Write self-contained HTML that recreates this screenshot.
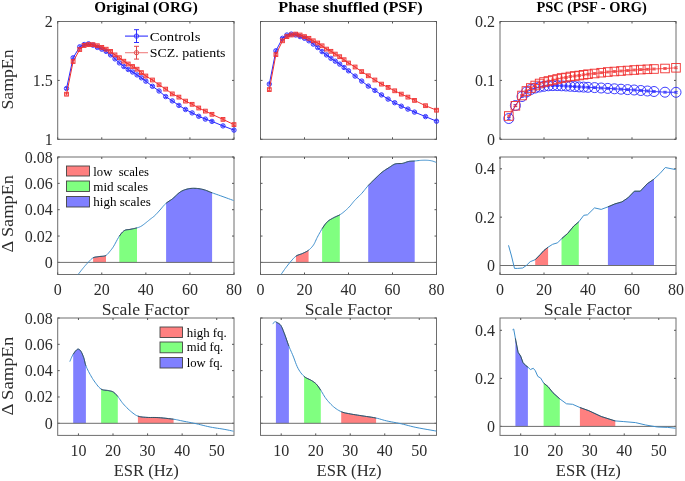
<!DOCTYPE html>
<html><head><meta charset="utf-8"><style>
html,body{margin:0;padding:0;background:#fff;}
svg{display:block;will-change:transform;}
text{font-family:"Liberation Serif",serif;}
.t{font-size:16px;fill:#2c2c2c;}
.ti{font-size:15.3px;font-weight:bold;fill:#000;}
.al{font-size:17.4px;fill:#2c2c2c;}
.lg{font-size:13px;fill:#000;}
.lg2{font-size:12.5px;fill:#000;}
</style></head><body>
<svg width="685" height="481" viewBox="0 0 685 481">
<rect width="685" height="481" fill="#fff"/>
<rect x="57.7" y="21.5" width="176.3" height="117.80000000000001" fill="none" stroke="#6e6e6e" stroke-width="1"/>
<rect x="260.5" y="21.5" width="176.0" height="117.80000000000001" fill="none" stroke="#6e6e6e" stroke-width="1"/>
<rect x="500.0" y="21.5" width="176.0" height="117.80000000000001" fill="none" stroke="#6e6e6e" stroke-width="1"/>
<path d="M57.7 139.3v-2.0M57.7 21.5v2.0" stroke="#555"/>
<path d="M101.78 139.3v-2.0M101.78 21.5v2.0" stroke="#555"/>
<path d="M145.85 139.3v-2.0M145.85 21.5v2.0" stroke="#555"/>
<path d="M189.93 139.3v-2.0M189.93 21.5v2.0" stroke="#555"/>
<path d="M234 139.3v-2.0M234 21.5v2.0" stroke="#555"/>
<path d="M57.7 139.3h2.0M234.0 139.3h-2.0" stroke="#555"/>
<text x="52.8" y="144.8" text-anchor="end" class="t">1</text>
<path d="M57.7 80.4h2.0M234.0 80.4h-2.0" stroke="#555"/>
<text x="52.8" y="85.9" text-anchor="end" class="t">1.5</text>
<path d="M57.7 21.5h2.0M234.0 21.5h-2.0" stroke="#555"/>
<text x="52.8" y="27" text-anchor="end" class="t">2</text>
<path d="M260.5 139.3v-2.0M260.5 21.5v2.0" stroke="#555"/>
<path d="M304.5 139.3v-2.0M304.5 21.5v2.0" stroke="#555"/>
<path d="M348.5 139.3v-2.0M348.5 21.5v2.0" stroke="#555"/>
<path d="M392.5 139.3v-2.0M392.5 21.5v2.0" stroke="#555"/>
<path d="M436.5 139.3v-2.0M436.5 21.5v2.0" stroke="#555"/>
<path d="M260.5 139.3h2.0M436.5 139.3h-2.0" stroke="#555"/>
<path d="M260.5 80.4h2.0M436.5 80.4h-2.0" stroke="#555"/>
<path d="M260.5 21.5h2.0M436.5 21.5h-2.0" stroke="#555"/>
<path d="M500 139.3v-2.0M500 21.5v2.0" stroke="#555"/>
<path d="M544 139.3v-2.0M544 21.5v2.0" stroke="#555"/>
<path d="M588 139.3v-2.0M588 21.5v2.0" stroke="#555"/>
<path d="M632 139.3v-2.0M632 21.5v2.0" stroke="#555"/>
<path d="M676 139.3v-2.0M676 21.5v2.0" stroke="#555"/>
<path d="M500.0 139.3h2.0M676.0 139.3h-2.0" stroke="#555"/>
<text x="495.1" y="144.8" text-anchor="end" class="t">0</text>
<path d="M500.0 80.4h2.0M676.0 80.4h-2.0" stroke="#555"/>
<text x="495.1" y="85.9" text-anchor="end" class="t">0.1</text>
<path d="M500.0 21.5h2.0M676.0 21.5h-2.0" stroke="#555"/>
<text x="495.1" y="27" text-anchor="end" class="t">0.2</text>
<path d="M66.52 88.5 L73.13 57.8 L79.74 46.8 L84.15 44.5 L88.55 43.8 L92.96 45.2 L97.37 47.4 L101.78 49.2 L106.18 51.4 L110.59 54.9 L115 58.9 L119.41 62.9 L123.81 66.5 L128.22 69.5 L132.63 72 L137.04 74.9 L141.44 77.8 L145.85 81.2 L152.46 86.3 L159.07 91 L165.68 96.6 L172.3 100.9 L178.91 105.4 L185.52 109.5 L192.13 112.9 L198.74 116.3 L205.35 119.1 L211.96 121.4 L222.98 125.9 L234 130.1" fill="none" stroke="#2828ff" stroke-width="1.0"/>
<circle cx="66.52" cy="88.5" r="2.2" fill="none" stroke="#2828ff" stroke-width="0.9"/>
<circle cx="73.13" cy="57.8" r="2.2" fill="none" stroke="#2828ff" stroke-width="0.9"/>
<circle cx="79.74" cy="46.8" r="2.2" fill="none" stroke="#2828ff" stroke-width="0.9"/>
<circle cx="84.15" cy="44.5" r="2.2" fill="none" stroke="#2828ff" stroke-width="0.9"/>
<circle cx="88.55" cy="43.8" r="2.2" fill="none" stroke="#2828ff" stroke-width="0.9"/>
<circle cx="92.96" cy="45.2" r="2.2" fill="none" stroke="#2828ff" stroke-width="0.9"/>
<circle cx="97.37" cy="47.4" r="2.2" fill="none" stroke="#2828ff" stroke-width="0.9"/>
<circle cx="101.78" cy="49.2" r="2.2" fill="none" stroke="#2828ff" stroke-width="0.9"/>
<circle cx="106.18" cy="51.4" r="2.2" fill="none" stroke="#2828ff" stroke-width="0.9"/>
<circle cx="110.59" cy="54.9" r="2.2" fill="none" stroke="#2828ff" stroke-width="0.9"/>
<circle cx="115" cy="58.9" r="2.2" fill="none" stroke="#2828ff" stroke-width="0.9"/>
<circle cx="119.41" cy="62.9" r="2.2" fill="none" stroke="#2828ff" stroke-width="0.9"/>
<circle cx="123.81" cy="66.5" r="2.2" fill="none" stroke="#2828ff" stroke-width="0.9"/>
<circle cx="128.22" cy="69.5" r="2.2" fill="none" stroke="#2828ff" stroke-width="0.9"/>
<circle cx="132.63" cy="72" r="2.2" fill="none" stroke="#2828ff" stroke-width="0.9"/>
<circle cx="137.04" cy="74.9" r="2.2" fill="none" stroke="#2828ff" stroke-width="0.9"/>
<circle cx="141.44" cy="77.8" r="2.2" fill="none" stroke="#2828ff" stroke-width="0.9"/>
<circle cx="145.85" cy="81.2" r="2.2" fill="none" stroke="#2828ff" stroke-width="0.9"/>
<circle cx="152.46" cy="86.3" r="2.2" fill="none" stroke="#2828ff" stroke-width="0.9"/>
<circle cx="159.07" cy="91" r="2.2" fill="none" stroke="#2828ff" stroke-width="0.9"/>
<circle cx="165.68" cy="96.6" r="2.2" fill="none" stroke="#2828ff" stroke-width="0.9"/>
<circle cx="172.3" cy="100.9" r="2.2" fill="none" stroke="#2828ff" stroke-width="0.9"/>
<circle cx="178.91" cy="105.4" r="2.2" fill="none" stroke="#2828ff" stroke-width="0.9"/>
<circle cx="185.52" cy="109.5" r="2.2" fill="none" stroke="#2828ff" stroke-width="0.9"/>
<circle cx="192.13" cy="112.9" r="2.2" fill="none" stroke="#2828ff" stroke-width="0.9"/>
<circle cx="198.74" cy="116.3" r="2.2" fill="none" stroke="#2828ff" stroke-width="0.9"/>
<circle cx="205.35" cy="119.1" r="2.2" fill="none" stroke="#2828ff" stroke-width="0.9"/>
<circle cx="211.96" cy="121.4" r="2.2" fill="none" stroke="#2828ff" stroke-width="0.9"/>
<circle cx="222.98" cy="125.9" r="2.2" fill="none" stroke="#2828ff" stroke-width="0.9"/>
<circle cx="234" cy="130.1" r="2.2" fill="none" stroke="#2828ff" stroke-width="0.9"/>
<path d="M65.02 87.6h3M65.02 89.4h3M66.52 87.6V89.4M71.63 56.9h3M71.63 58.7h3M73.13 56.9V58.7M78.24 45.9h3M78.24 47.7h3M79.74 45.9V47.7M82.65 43.6h3M82.65 45.4h3M84.15 43.6V45.4M87.05 42.9h3M87.05 44.7h3M88.55 42.9V44.7M91.46 44.3h3M91.46 46.1h3M92.96 44.3V46.1M95.87 46.5h3M95.87 48.3h3M97.37 46.5V48.3M100.28 48.3h3M100.28 50.1h3M101.78 48.3V50.1M104.68 50.5h3M104.68 52.3h3M106.18 50.5V52.3M109.09 54h3M109.09 55.8h3M110.59 54V55.8M113.5 58h3M113.5 59.8h3M115 58V59.8M117.91 62h3M117.91 63.8h3M119.41 62V63.8M122.31 65.6h3M122.31 67.4h3M123.81 65.6V67.4M126.72 68.6h3M126.72 70.4h3M128.22 68.6V70.4M131.13 71.1h3M131.13 72.9h3M132.63 71.1V72.9M135.54 74h3M135.54 75.8h3M137.04 74V75.8M139.94 76.9h3M139.94 78.7h3M141.44 76.9V78.7M144.35 80.3h3M144.35 82.1h3M145.85 80.3V82.1M150.96 85.4h3M150.96 87.2h3M152.46 85.4V87.2M157.57 90.1h3M157.57 91.9h3M159.07 90.1V91.9M164.18 95.7h3M164.18 97.5h3M165.68 95.7V97.5M170.8 100h3M170.8 101.8h3M172.3 100V101.8M177.41 104.5h3M177.41 106.3h3M178.91 104.5V106.3M184.02 108.6h3M184.02 110.4h3M185.52 108.6V110.4M190.63 112h3M190.63 113.8h3M192.13 112V113.8M197.24 115.4h3M197.24 117.2h3M198.74 115.4V117.2M203.85 118.2h3M203.85 120h3M205.35 118.2V120M210.46 120.5h3M210.46 122.3h3M211.96 120.5V122.3M221.48 125h3M221.48 126.8h3M222.98 125V126.8M232.5 129.2h3M232.5 131h3M234 129.2V131" stroke="#2828ff" stroke-width="0.8" fill="none"/>
<path d="M66.52 94.2 L73.13 61.5 L79.74 49.5 L84.15 45.5 L88.55 44.6 L92.96 44.6 L97.37 45.7 L101.78 47.4 L106.18 49.2 L110.59 51.4 L115 54.9 L119.41 57.7 L123.81 61.2 L128.22 64 L132.63 66.5 L137.04 69.2 L141.44 72.6 L145.85 76 L152.46 80 L159.07 84.8 L165.68 89.1 L172.3 93.9 L178.91 97.1 L185.52 101.1 L192.13 104.3 L198.74 108 L205.35 111.1 L211.96 114.3 L222.98 119.4 L234 124.6" fill="none" stroke="#f03030" stroke-width="1.0"/>
<rect x="64.61" y="92.3" width="3.8" height="3.8" fill="none" stroke="#f03030" stroke-width="0.9"/>
<rect x="71.23" y="59.6" width="3.8" height="3.8" fill="none" stroke="#f03030" stroke-width="0.9"/>
<rect x="77.84" y="47.6" width="3.8" height="3.8" fill="none" stroke="#f03030" stroke-width="0.9"/>
<rect x="82.25" y="43.6" width="3.8" height="3.8" fill="none" stroke="#f03030" stroke-width="0.9"/>
<rect x="86.65" y="42.7" width="3.8" height="3.8" fill="none" stroke="#f03030" stroke-width="0.9"/>
<rect x="91.06" y="42.7" width="3.8" height="3.8" fill="none" stroke="#f03030" stroke-width="0.9"/>
<rect x="95.47" y="43.8" width="3.8" height="3.8" fill="none" stroke="#f03030" stroke-width="0.9"/>
<rect x="99.88" y="45.5" width="3.8" height="3.8" fill="none" stroke="#f03030" stroke-width="0.9"/>
<rect x="104.28" y="47.3" width="3.8" height="3.8" fill="none" stroke="#f03030" stroke-width="0.9"/>
<rect x="108.69" y="49.5" width="3.8" height="3.8" fill="none" stroke="#f03030" stroke-width="0.9"/>
<rect x="113.1" y="53" width="3.8" height="3.8" fill="none" stroke="#f03030" stroke-width="0.9"/>
<rect x="117.5" y="55.8" width="3.8" height="3.8" fill="none" stroke="#f03030" stroke-width="0.9"/>
<rect x="121.91" y="59.3" width="3.8" height="3.8" fill="none" stroke="#f03030" stroke-width="0.9"/>
<rect x="126.32" y="62.1" width="3.8" height="3.8" fill="none" stroke="#f03030" stroke-width="0.9"/>
<rect x="130.73" y="64.6" width="3.8" height="3.8" fill="none" stroke="#f03030" stroke-width="0.9"/>
<rect x="135.14" y="67.3" width="3.8" height="3.8" fill="none" stroke="#f03030" stroke-width="0.9"/>
<rect x="139.54" y="70.7" width="3.8" height="3.8" fill="none" stroke="#f03030" stroke-width="0.9"/>
<rect x="143.95" y="74.1" width="3.8" height="3.8" fill="none" stroke="#f03030" stroke-width="0.9"/>
<rect x="150.56" y="78.1" width="3.8" height="3.8" fill="none" stroke="#f03030" stroke-width="0.9"/>
<rect x="157.17" y="82.9" width="3.8" height="3.8" fill="none" stroke="#f03030" stroke-width="0.9"/>
<rect x="163.78" y="87.2" width="3.8" height="3.8" fill="none" stroke="#f03030" stroke-width="0.9"/>
<rect x="170.4" y="92" width="3.8" height="3.8" fill="none" stroke="#f03030" stroke-width="0.9"/>
<rect x="177.01" y="95.2" width="3.8" height="3.8" fill="none" stroke="#f03030" stroke-width="0.9"/>
<rect x="183.62" y="99.2" width="3.8" height="3.8" fill="none" stroke="#f03030" stroke-width="0.9"/>
<rect x="190.23" y="102.4" width="3.8" height="3.8" fill="none" stroke="#f03030" stroke-width="0.9"/>
<rect x="196.84" y="106.1" width="3.8" height="3.8" fill="none" stroke="#f03030" stroke-width="0.9"/>
<rect x="203.45" y="109.2" width="3.8" height="3.8" fill="none" stroke="#f03030" stroke-width="0.9"/>
<rect x="210.06" y="112.4" width="3.8" height="3.8" fill="none" stroke="#f03030" stroke-width="0.9"/>
<rect x="221.08" y="117.5" width="3.8" height="3.8" fill="none" stroke="#f03030" stroke-width="0.9"/>
<rect x="232.1" y="122.7" width="3.8" height="3.8" fill="none" stroke="#f03030" stroke-width="0.9"/>
<path d="M65.02 93.3h3M65.02 95.1h3M66.52 93.3V95.1M71.63 60.6h3M71.63 62.4h3M73.13 60.6V62.4M78.24 48.6h3M78.24 50.4h3M79.74 48.6V50.4M82.65 44.6h3M82.65 46.4h3M84.15 44.6V46.4M87.05 43.7h3M87.05 45.5h3M88.55 43.7V45.5M91.46 43.7h3M91.46 45.5h3M92.96 43.7V45.5M95.87 44.8h3M95.87 46.6h3M97.37 44.8V46.6M100.28 46.5h3M100.28 48.3h3M101.78 46.5V48.3M104.68 48.3h3M104.68 50.1h3M106.18 48.3V50.1M109.09 50.5h3M109.09 52.3h3M110.59 50.5V52.3M113.5 54h3M113.5 55.8h3M115 54V55.8M117.91 56.8h3M117.91 58.6h3M119.41 56.8V58.6M122.31 60.3h3M122.31 62.1h3M123.81 60.3V62.1M126.72 63.1h3M126.72 64.9h3M128.22 63.1V64.9M131.13 65.6h3M131.13 67.4h3M132.63 65.6V67.4M135.54 68.3h3M135.54 70.1h3M137.04 68.3V70.1M139.94 71.7h3M139.94 73.5h3M141.44 71.7V73.5M144.35 75.1h3M144.35 76.9h3M145.85 75.1V76.9M150.96 79.1h3M150.96 80.9h3M152.46 79.1V80.9M157.57 83.9h3M157.57 85.7h3M159.07 83.9V85.7M164.18 88.2h3M164.18 90h3M165.68 88.2V90M170.8 93h3M170.8 94.8h3M172.3 93V94.8M177.41 96.2h3M177.41 98h3M178.91 96.2V98M184.02 100.2h3M184.02 102h3M185.52 100.2V102M190.63 103.4h3M190.63 105.2h3M192.13 103.4V105.2M197.24 107.1h3M197.24 108.9h3M198.74 107.1V108.9M203.85 110.2h3M203.85 112h3M205.35 110.2V112M210.46 113.4h3M210.46 115.2h3M211.96 113.4V115.2M221.48 118.5h3M221.48 120.3h3M222.98 118.5V120.3M232.5 123.7h3M232.5 125.5h3M234 123.7V125.5" stroke="#f03030" stroke-width="0.8" fill="none"/>
<path d="M269.3 84.1 L275.9 50.8 L282.5 38.3 L286.9 35 L291.3 34.1 L295.7 35 L300.1 36.6 L304.5 38.3 L308.9 40.8 L313.3 44.1 L317.7 47.5 L322.1 51.6 L326.5 54.9 L330.9 58.3 L335.3 61.2 L339.7 64.1 L344.1 67.5 L348.5 70.8 L355.1 76.1 L361.7 81.1 L368.3 86.1 L374.9 90.4 L381.5 94.9 L388.1 99.1 L394.7 102.7 L401.3 106.2 L407.9 109.1 L414.5 112.1 L425.5 116.6 L436.5 121.2" fill="none" stroke="#2828ff" stroke-width="1.0"/>
<circle cx="269.3" cy="84.1" r="2.2" fill="none" stroke="#2828ff" stroke-width="0.9"/>
<circle cx="275.9" cy="50.8" r="2.2" fill="none" stroke="#2828ff" stroke-width="0.9"/>
<circle cx="282.5" cy="38.3" r="2.2" fill="none" stroke="#2828ff" stroke-width="0.9"/>
<circle cx="286.9" cy="35" r="2.2" fill="none" stroke="#2828ff" stroke-width="0.9"/>
<circle cx="291.3" cy="34.1" r="2.2" fill="none" stroke="#2828ff" stroke-width="0.9"/>
<circle cx="295.7" cy="35" r="2.2" fill="none" stroke="#2828ff" stroke-width="0.9"/>
<circle cx="300.1" cy="36.6" r="2.2" fill="none" stroke="#2828ff" stroke-width="0.9"/>
<circle cx="304.5" cy="38.3" r="2.2" fill="none" stroke="#2828ff" stroke-width="0.9"/>
<circle cx="308.9" cy="40.8" r="2.2" fill="none" stroke="#2828ff" stroke-width="0.9"/>
<circle cx="313.3" cy="44.1" r="2.2" fill="none" stroke="#2828ff" stroke-width="0.9"/>
<circle cx="317.7" cy="47.5" r="2.2" fill="none" stroke="#2828ff" stroke-width="0.9"/>
<circle cx="322.1" cy="51.6" r="2.2" fill="none" stroke="#2828ff" stroke-width="0.9"/>
<circle cx="326.5" cy="54.9" r="2.2" fill="none" stroke="#2828ff" stroke-width="0.9"/>
<circle cx="330.9" cy="58.3" r="2.2" fill="none" stroke="#2828ff" stroke-width="0.9"/>
<circle cx="335.3" cy="61.2" r="2.2" fill="none" stroke="#2828ff" stroke-width="0.9"/>
<circle cx="339.7" cy="64.1" r="2.2" fill="none" stroke="#2828ff" stroke-width="0.9"/>
<circle cx="344.1" cy="67.5" r="2.2" fill="none" stroke="#2828ff" stroke-width="0.9"/>
<circle cx="348.5" cy="70.8" r="2.2" fill="none" stroke="#2828ff" stroke-width="0.9"/>
<circle cx="355.1" cy="76.1" r="2.2" fill="none" stroke="#2828ff" stroke-width="0.9"/>
<circle cx="361.7" cy="81.1" r="2.2" fill="none" stroke="#2828ff" stroke-width="0.9"/>
<circle cx="368.3" cy="86.1" r="2.2" fill="none" stroke="#2828ff" stroke-width="0.9"/>
<circle cx="374.9" cy="90.4" r="2.2" fill="none" stroke="#2828ff" stroke-width="0.9"/>
<circle cx="381.5" cy="94.9" r="2.2" fill="none" stroke="#2828ff" stroke-width="0.9"/>
<circle cx="388.1" cy="99.1" r="2.2" fill="none" stroke="#2828ff" stroke-width="0.9"/>
<circle cx="394.7" cy="102.7" r="2.2" fill="none" stroke="#2828ff" stroke-width="0.9"/>
<circle cx="401.3" cy="106.2" r="2.2" fill="none" stroke="#2828ff" stroke-width="0.9"/>
<circle cx="407.9" cy="109.1" r="2.2" fill="none" stroke="#2828ff" stroke-width="0.9"/>
<circle cx="414.5" cy="112.1" r="2.2" fill="none" stroke="#2828ff" stroke-width="0.9"/>
<circle cx="425.5" cy="116.6" r="2.2" fill="none" stroke="#2828ff" stroke-width="0.9"/>
<circle cx="436.5" cy="121.2" r="2.2" fill="none" stroke="#2828ff" stroke-width="0.9"/>
<path d="M267.8 83.2h3M267.8 85h3M269.3 83.2V85M274.4 49.9h3M274.4 51.7h3M275.9 49.9V51.7M281 37.4h3M281 39.2h3M282.5 37.4V39.2M285.4 34.1h3M285.4 35.9h3M286.9 34.1V35.9M289.8 33.2h3M289.8 35h3M291.3 33.2V35M294.2 34.1h3M294.2 35.9h3M295.7 34.1V35.9M298.6 35.7h3M298.6 37.5h3M300.1 35.7V37.5M303 37.4h3M303 39.2h3M304.5 37.4V39.2M307.4 39.9h3M307.4 41.7h3M308.9 39.9V41.7M311.8 43.2h3M311.8 45h3M313.3 43.2V45M316.2 46.6h3M316.2 48.4h3M317.7 46.6V48.4M320.6 50.7h3M320.6 52.5h3M322.1 50.7V52.5M325 54h3M325 55.8h3M326.5 54V55.8M329.4 57.4h3M329.4 59.2h3M330.9 57.4V59.2M333.8 60.3h3M333.8 62.1h3M335.3 60.3V62.1M338.2 63.2h3M338.2 65h3M339.7 63.2V65M342.6 66.6h3M342.6 68.4h3M344.1 66.6V68.4M347 69.9h3M347 71.7h3M348.5 69.9V71.7M353.6 75.2h3M353.6 77h3M355.1 75.2V77M360.2 80.2h3M360.2 82h3M361.7 80.2V82M366.8 85.2h3M366.8 87h3M368.3 85.2V87M373.4 89.5h3M373.4 91.3h3M374.9 89.5V91.3M380 94h3M380 95.8h3M381.5 94V95.8M386.6 98.2h3M386.6 100h3M388.1 98.2V100M393.2 101.8h3M393.2 103.6h3M394.7 101.8V103.6M399.8 105.3h3M399.8 107.1h3M401.3 105.3V107.1M406.4 108.2h3M406.4 110h3M407.9 108.2V110M413 111.2h3M413 113h3M414.5 111.2V113M424 115.7h3M424 117.5h3M425.5 115.7V117.5M435 120.3h3M435 122.1h3M436.5 120.3V122.1" stroke="#2828ff" stroke-width="0.8" fill="none"/>
<path d="M269.3 89.6 L275.9 54.6 L282.5 40.8 L286.9 36.6 L291.3 35 L295.7 34.1 L300.1 35 L304.5 36.6 L308.9 38.3 L313.3 40.8 L317.7 43 L322.1 45.8 L326.5 49.1 L330.9 51.3 L335.3 54.1 L339.7 56.7 L344.1 59.7 L348.5 63 L355.1 67 L361.7 71.6 L368.3 75.8 L374.9 80 L381.5 84.1 L388.1 87.4 L394.7 90.8 L401.3 94.1 L407.9 97.1 L414.5 100.4 L425.5 105.7 L436.5 110.2" fill="none" stroke="#f03030" stroke-width="1.0"/>
<rect x="267.4" y="87.7" width="3.8" height="3.8" fill="none" stroke="#f03030" stroke-width="0.9"/>
<rect x="274" y="52.7" width="3.8" height="3.8" fill="none" stroke="#f03030" stroke-width="0.9"/>
<rect x="280.6" y="38.9" width="3.8" height="3.8" fill="none" stroke="#f03030" stroke-width="0.9"/>
<rect x="285" y="34.7" width="3.8" height="3.8" fill="none" stroke="#f03030" stroke-width="0.9"/>
<rect x="289.4" y="33.1" width="3.8" height="3.8" fill="none" stroke="#f03030" stroke-width="0.9"/>
<rect x="293.8" y="32.2" width="3.8" height="3.8" fill="none" stroke="#f03030" stroke-width="0.9"/>
<rect x="298.2" y="33.1" width="3.8" height="3.8" fill="none" stroke="#f03030" stroke-width="0.9"/>
<rect x="302.6" y="34.7" width="3.8" height="3.8" fill="none" stroke="#f03030" stroke-width="0.9"/>
<rect x="307" y="36.4" width="3.8" height="3.8" fill="none" stroke="#f03030" stroke-width="0.9"/>
<rect x="311.4" y="38.9" width="3.8" height="3.8" fill="none" stroke="#f03030" stroke-width="0.9"/>
<rect x="315.8" y="41.1" width="3.8" height="3.8" fill="none" stroke="#f03030" stroke-width="0.9"/>
<rect x="320.2" y="43.9" width="3.8" height="3.8" fill="none" stroke="#f03030" stroke-width="0.9"/>
<rect x="324.6" y="47.2" width="3.8" height="3.8" fill="none" stroke="#f03030" stroke-width="0.9"/>
<rect x="329" y="49.4" width="3.8" height="3.8" fill="none" stroke="#f03030" stroke-width="0.9"/>
<rect x="333.4" y="52.2" width="3.8" height="3.8" fill="none" stroke="#f03030" stroke-width="0.9"/>
<rect x="337.8" y="54.8" width="3.8" height="3.8" fill="none" stroke="#f03030" stroke-width="0.9"/>
<rect x="342.2" y="57.8" width="3.8" height="3.8" fill="none" stroke="#f03030" stroke-width="0.9"/>
<rect x="346.6" y="61.1" width="3.8" height="3.8" fill="none" stroke="#f03030" stroke-width="0.9"/>
<rect x="353.2" y="65.1" width="3.8" height="3.8" fill="none" stroke="#f03030" stroke-width="0.9"/>
<rect x="359.8" y="69.7" width="3.8" height="3.8" fill="none" stroke="#f03030" stroke-width="0.9"/>
<rect x="366.4" y="73.9" width="3.8" height="3.8" fill="none" stroke="#f03030" stroke-width="0.9"/>
<rect x="373" y="78.1" width="3.8" height="3.8" fill="none" stroke="#f03030" stroke-width="0.9"/>
<rect x="379.6" y="82.2" width="3.8" height="3.8" fill="none" stroke="#f03030" stroke-width="0.9"/>
<rect x="386.2" y="85.5" width="3.8" height="3.8" fill="none" stroke="#f03030" stroke-width="0.9"/>
<rect x="392.8" y="88.9" width="3.8" height="3.8" fill="none" stroke="#f03030" stroke-width="0.9"/>
<rect x="399.4" y="92.2" width="3.8" height="3.8" fill="none" stroke="#f03030" stroke-width="0.9"/>
<rect x="406" y="95.2" width="3.8" height="3.8" fill="none" stroke="#f03030" stroke-width="0.9"/>
<rect x="412.6" y="98.5" width="3.8" height="3.8" fill="none" stroke="#f03030" stroke-width="0.9"/>
<rect x="423.6" y="103.8" width="3.8" height="3.8" fill="none" stroke="#f03030" stroke-width="0.9"/>
<rect x="434.6" y="108.3" width="3.8" height="3.8" fill="none" stroke="#f03030" stroke-width="0.9"/>
<path d="M267.8 88.7h3M267.8 90.5h3M269.3 88.7V90.5M274.4 53.7h3M274.4 55.5h3M275.9 53.7V55.5M281 39.9h3M281 41.7h3M282.5 39.9V41.7M285.4 35.7h3M285.4 37.5h3M286.9 35.7V37.5M289.8 34.1h3M289.8 35.9h3M291.3 34.1V35.9M294.2 33.2h3M294.2 35h3M295.7 33.2V35M298.6 34.1h3M298.6 35.9h3M300.1 34.1V35.9M303 35.7h3M303 37.5h3M304.5 35.7V37.5M307.4 37.4h3M307.4 39.2h3M308.9 37.4V39.2M311.8 39.9h3M311.8 41.7h3M313.3 39.9V41.7M316.2 42.1h3M316.2 43.9h3M317.7 42.1V43.9M320.6 44.9h3M320.6 46.7h3M322.1 44.9V46.7M325 48.2h3M325 50h3M326.5 48.2V50M329.4 50.4h3M329.4 52.2h3M330.9 50.4V52.2M333.8 53.2h3M333.8 55h3M335.3 53.2V55M338.2 55.8h3M338.2 57.6h3M339.7 55.8V57.6M342.6 58.8h3M342.6 60.6h3M344.1 58.8V60.6M347 62.1h3M347 63.9h3M348.5 62.1V63.9M353.6 66.1h3M353.6 67.9h3M355.1 66.1V67.9M360.2 70.7h3M360.2 72.5h3M361.7 70.7V72.5M366.8 74.9h3M366.8 76.7h3M368.3 74.9V76.7M373.4 79.1h3M373.4 80.9h3M374.9 79.1V80.9M380 83.2h3M380 85h3M381.5 83.2V85M386.6 86.5h3M386.6 88.3h3M388.1 86.5V88.3M393.2 89.9h3M393.2 91.7h3M394.7 89.9V91.7M399.8 93.2h3M399.8 95h3M401.3 93.2V95M406.4 96.2h3M406.4 98h3M407.9 96.2V98M413 99.5h3M413 101.3h3M414.5 99.5V101.3M424 104.8h3M424 106.6h3M425.5 104.8V106.6M435 109.3h3M435 111.1h3M436.5 109.3V111.1" stroke="#f03030" stroke-width="0.8" fill="none"/>
<path d="M508.8 118.5 L515.4 105.5 L522 96.5 L526.4 92 L530.8 89.5 L535.2 88 L539.6 87 L544 86.3 L548.4 85.8 L552.8 85.6 L557.2 85.6 L561.6 85.8 L566 86 L570.4 86.3 L574.8 86.6 L579.2 86.9 L583.6 87.1 L588 87.3 L594.6 87.6 L601.2 88 L607.8 88.4 L614.4 88.8 L621 89.2 L627.6 89.6 L634.2 90 L640.8 90.5 L647.4 91 L654 91.5 L665 92.2 L676 92.3" fill="none" stroke="#2828ff" stroke-width="0.9"/>
<circle cx="508.8" cy="118.5" r="5.0" fill="none" stroke="#2828ff" stroke-width="0.9"/>
<circle cx="515.4" cy="105.5" r="5.0" fill="none" stroke="#2828ff" stroke-width="0.9"/>
<circle cx="522" cy="96.5" r="5.0" fill="none" stroke="#2828ff" stroke-width="0.9"/>
<circle cx="526.4" cy="92" r="5.0" fill="none" stroke="#2828ff" stroke-width="0.9"/>
<circle cx="530.8" cy="89.5" r="5.0" fill="none" stroke="#2828ff" stroke-width="0.9"/>
<circle cx="535.2" cy="88" r="5.0" fill="none" stroke="#2828ff" stroke-width="0.9"/>
<circle cx="539.6" cy="87" r="5.0" fill="none" stroke="#2828ff" stroke-width="0.9"/>
<circle cx="544" cy="86.3" r="5.0" fill="none" stroke="#2828ff" stroke-width="0.9"/>
<circle cx="548.4" cy="85.8" r="5.0" fill="none" stroke="#2828ff" stroke-width="0.9"/>
<circle cx="552.8" cy="85.6" r="5.0" fill="none" stroke="#2828ff" stroke-width="0.9"/>
<circle cx="557.2" cy="85.6" r="5.0" fill="none" stroke="#2828ff" stroke-width="0.9"/>
<circle cx="561.6" cy="85.8" r="5.0" fill="none" stroke="#2828ff" stroke-width="0.9"/>
<circle cx="566" cy="86" r="5.0" fill="none" stroke="#2828ff" stroke-width="0.9"/>
<circle cx="570.4" cy="86.3" r="5.0" fill="none" stroke="#2828ff" stroke-width="0.9"/>
<circle cx="574.8" cy="86.6" r="5.0" fill="none" stroke="#2828ff" stroke-width="0.9"/>
<circle cx="579.2" cy="86.9" r="5.0" fill="none" stroke="#2828ff" stroke-width="0.9"/>
<circle cx="583.6" cy="87.1" r="5.0" fill="none" stroke="#2828ff" stroke-width="0.9"/>
<circle cx="588" cy="87.3" r="5.0" fill="none" stroke="#2828ff" stroke-width="0.9"/>
<circle cx="594.6" cy="87.6" r="5.0" fill="none" stroke="#2828ff" stroke-width="0.9"/>
<circle cx="601.2" cy="88" r="5.0" fill="none" stroke="#2828ff" stroke-width="0.9"/>
<circle cx="607.8" cy="88.4" r="5.0" fill="none" stroke="#2828ff" stroke-width="0.9"/>
<circle cx="614.4" cy="88.8" r="5.0" fill="none" stroke="#2828ff" stroke-width="0.9"/>
<circle cx="621" cy="89.2" r="5.0" fill="none" stroke="#2828ff" stroke-width="0.9"/>
<circle cx="627.6" cy="89.6" r="5.0" fill="none" stroke="#2828ff" stroke-width="0.9"/>
<circle cx="634.2" cy="90" r="5.0" fill="none" stroke="#2828ff" stroke-width="0.9"/>
<circle cx="640.8" cy="90.5" r="5.0" fill="none" stroke="#2828ff" stroke-width="0.9"/>
<circle cx="647.4" cy="91" r="5.0" fill="none" stroke="#2828ff" stroke-width="0.9"/>
<circle cx="654" cy="91.5" r="5.0" fill="none" stroke="#2828ff" stroke-width="0.9"/>
<circle cx="665" cy="92.2" r="5.0" fill="none" stroke="#2828ff" stroke-width="0.9"/>
<circle cx="676" cy="92.3" r="5.0" fill="none" stroke="#2828ff" stroke-width="0.9"/>
<path d="M507 117.6h3.6M507 119.4h3.6M508.8 117.6V119.4M513.6 104.6h3.6M513.6 106.4h3.6M515.4 104.6V106.4M520.2 95.6h3.6M520.2 97.4h3.6M522 95.6V97.4M524.6 91.1h3.6M524.6 92.9h3.6M526.4 91.1V92.9M529 88.6h3.6M529 90.4h3.6M530.8 88.6V90.4M533.4 87.1h3.6M533.4 88.9h3.6M535.2 87.1V88.9M537.8 86.1h3.6M537.8 87.9h3.6M539.6 86.1V87.9M542.2 85.4h3.6M542.2 87.2h3.6M544 85.4V87.2M546.6 84.9h3.6M546.6 86.7h3.6M548.4 84.9V86.7M551 84.7h3.6M551 86.5h3.6M552.8 84.7V86.5M555.4 84.7h3.6M555.4 86.5h3.6M557.2 84.7V86.5M559.8 84.9h3.6M559.8 86.7h3.6M561.6 84.9V86.7M564.2 85.1h3.6M564.2 86.9h3.6M566 85.1V86.9M568.6 85.4h3.6M568.6 87.2h3.6M570.4 85.4V87.2M573 85.7h3.6M573 87.5h3.6M574.8 85.7V87.5M577.4 86h3.6M577.4 87.8h3.6M579.2 86V87.8M581.8 86.2h3.6M581.8 88h3.6M583.6 86.2V88M586.2 86.4h3.6M586.2 88.2h3.6M588 86.4V88.2M592.8 86.7h3.6M592.8 88.5h3.6M594.6 86.7V88.5M599.4 87.1h3.6M599.4 88.9h3.6M601.2 87.1V88.9M606 87.5h3.6M606 89.3h3.6M607.8 87.5V89.3M612.6 87.9h3.6M612.6 89.7h3.6M614.4 87.9V89.7M619.2 88.3h3.6M619.2 90.1h3.6M621 88.3V90.1M625.8 88.7h3.6M625.8 90.5h3.6M627.6 88.7V90.5M632.4 89.1h3.6M632.4 90.9h3.6M634.2 89.1V90.9M639 89.6h3.6M639 91.4h3.6M640.8 89.6V91.4M645.6 90.1h3.6M645.6 91.9h3.6M647.4 90.1V91.9M652.2 90.6h3.6M652.2 92.4h3.6M654 90.6V92.4M663.2 91.3h3.6M663.2 93.1h3.6M665 91.3V93.1M674.2 91.4h3.6M674.2 93.2h3.6M676 91.4V93.2" stroke="#2828ff" stroke-width="0.8" fill="none"/>
<path d="M508.8 116 L515.4 105.8 L522 95.5 L526.4 91 L530.8 88 L535.2 85.5 L539.6 83.5 L544 82 L548.4 81 L552.8 80 L557.2 79 L561.6 78 L566 77.5 L570.4 76.5 L574.8 76 L579.2 75.5 L583.6 74.8 L588 74.2 L594.6 73.5 L601.2 72.7 L607.8 72 L614.4 71.5 L621 71 L627.6 70.5 L634.2 70 L640.8 69.6 L647.4 69.3 L654 69 L665 68.5 L676 67.8" fill="none" stroke="#f03030" stroke-width="0.8"/>
<rect x="504.5" y="111.7" width="8.6" height="8.6" fill="none" stroke="#f03030" stroke-width="0.9"/>
<rect x="511.1" y="101.5" width="8.6" height="8.6" fill="none" stroke="#f03030" stroke-width="0.9"/>
<rect x="517.7" y="91.2" width="8.6" height="8.6" fill="none" stroke="#f03030" stroke-width="0.9"/>
<rect x="522.1" y="86.7" width="8.6" height="8.6" fill="none" stroke="#f03030" stroke-width="0.9"/>
<rect x="526.5" y="83.7" width="8.6" height="8.6" fill="none" stroke="#f03030" stroke-width="0.9"/>
<rect x="530.9" y="81.2" width="8.6" height="8.6" fill="none" stroke="#f03030" stroke-width="0.9"/>
<rect x="535.3" y="79.2" width="8.6" height="8.6" fill="none" stroke="#f03030" stroke-width="0.9"/>
<rect x="539.7" y="77.7" width="8.6" height="8.6" fill="none" stroke="#f03030" stroke-width="0.9"/>
<rect x="544.1" y="76.7" width="8.6" height="8.6" fill="none" stroke="#f03030" stroke-width="0.9"/>
<rect x="548.5" y="75.7" width="8.6" height="8.6" fill="none" stroke="#f03030" stroke-width="0.9"/>
<rect x="552.9" y="74.7" width="8.6" height="8.6" fill="none" stroke="#f03030" stroke-width="0.9"/>
<rect x="557.3" y="73.7" width="8.6" height="8.6" fill="none" stroke="#f03030" stroke-width="0.9"/>
<rect x="561.7" y="73.2" width="8.6" height="8.6" fill="none" stroke="#f03030" stroke-width="0.9"/>
<rect x="566.1" y="72.2" width="8.6" height="8.6" fill="none" stroke="#f03030" stroke-width="0.9"/>
<rect x="570.5" y="71.7" width="8.6" height="8.6" fill="none" stroke="#f03030" stroke-width="0.9"/>
<rect x="574.9" y="71.2" width="8.6" height="8.6" fill="none" stroke="#f03030" stroke-width="0.9"/>
<rect x="579.3" y="70.5" width="8.6" height="8.6" fill="none" stroke="#f03030" stroke-width="0.9"/>
<rect x="583.7" y="69.9" width="8.6" height="8.6" fill="none" stroke="#f03030" stroke-width="0.9"/>
<rect x="590.3" y="69.2" width="8.6" height="8.6" fill="none" stroke="#f03030" stroke-width="0.9"/>
<rect x="596.9" y="68.4" width="8.6" height="8.6" fill="none" stroke="#f03030" stroke-width="0.9"/>
<rect x="603.5" y="67.7" width="8.6" height="8.6" fill="none" stroke="#f03030" stroke-width="0.9"/>
<rect x="610.1" y="67.2" width="8.6" height="8.6" fill="none" stroke="#f03030" stroke-width="0.9"/>
<rect x="616.7" y="66.7" width="8.6" height="8.6" fill="none" stroke="#f03030" stroke-width="0.9"/>
<rect x="623.3" y="66.2" width="8.6" height="8.6" fill="none" stroke="#f03030" stroke-width="0.9"/>
<rect x="629.9" y="65.7" width="8.6" height="8.6" fill="none" stroke="#f03030" stroke-width="0.9"/>
<rect x="636.5" y="65.3" width="8.6" height="8.6" fill="none" stroke="#f03030" stroke-width="0.9"/>
<rect x="643.1" y="65" width="8.6" height="8.6" fill="none" stroke="#f03030" stroke-width="0.9"/>
<rect x="649.7" y="64.7" width="8.6" height="8.6" fill="none" stroke="#f03030" stroke-width="0.9"/>
<rect x="660.7" y="64.2" width="8.6" height="8.6" fill="none" stroke="#f03030" stroke-width="0.9"/>
<rect x="671.7" y="63.5" width="8.6" height="8.6" fill="none" stroke="#f03030" stroke-width="0.9"/>
<path d="M507 115.1h3.6M507 116.9h3.6M508.8 115.1V116.9M513.6 104.9h3.6M513.6 106.7h3.6M515.4 104.9V106.7M520.2 94.6h3.6M520.2 96.4h3.6M522 94.6V96.4M524.6 90.1h3.6M524.6 91.9h3.6M526.4 90.1V91.9M529 87.1h3.6M529 88.9h3.6M530.8 87.1V88.9M533.4 84.6h3.6M533.4 86.4h3.6M535.2 84.6V86.4M537.8 82.6h3.6M537.8 84.4h3.6M539.6 82.6V84.4M542.2 81.1h3.6M542.2 82.9h3.6M544 81.1V82.9M546.6 80.1h3.6M546.6 81.9h3.6M548.4 80.1V81.9M551 79.1h3.6M551 80.9h3.6M552.8 79.1V80.9M555.4 78.1h3.6M555.4 79.9h3.6M557.2 78.1V79.9M559.8 77.1h3.6M559.8 78.9h3.6M561.6 77.1V78.9M564.2 76.6h3.6M564.2 78.4h3.6M566 76.6V78.4M568.6 75.6h3.6M568.6 77.4h3.6M570.4 75.6V77.4M573 75.1h3.6M573 76.9h3.6M574.8 75.1V76.9M577.4 74.6h3.6M577.4 76.4h3.6M579.2 74.6V76.4M581.8 73.9h3.6M581.8 75.7h3.6M583.6 73.9V75.7M586.2 73.3h3.6M586.2 75.1h3.6M588 73.3V75.1M592.8 72.6h3.6M592.8 74.4h3.6M594.6 72.6V74.4M599.4 71.8h3.6M599.4 73.6h3.6M601.2 71.8V73.6M606 71.1h3.6M606 72.9h3.6M607.8 71.1V72.9M612.6 70.6h3.6M612.6 72.4h3.6M614.4 70.6V72.4M619.2 70.1h3.6M619.2 71.9h3.6M621 70.1V71.9M625.8 69.6h3.6M625.8 71.4h3.6M627.6 69.6V71.4M632.4 69.1h3.6M632.4 70.9h3.6M634.2 69.1V70.9M639 68.7h3.6M639 70.5h3.6M640.8 68.7V70.5M645.6 68.4h3.6M645.6 70.2h3.6M647.4 68.4V70.2M652.2 68.1h3.6M652.2 69.9h3.6M654 68.1V69.9M663.2 67.6h3.6M663.2 69.4h3.6M665 67.6V69.4M674.2 66.9h3.6M674.2 68.7h3.6M676 66.9V68.7" stroke="#f03030" stroke-width="0.8" fill="none"/>
<path d="M125 36.1H148" stroke="#3030ff" stroke-width="1.1" fill="none"/>
<path d="M136.5 29.7V42.5M134 29.7h5M134 42.5h5" stroke="#3030ff" stroke-width="1" fill="none"/>
<circle cx="136.5" cy="36.1" r="2.2" fill="none" stroke="#3030ff" stroke-width="0.9"/>
<path d="M125 52.7H148" stroke="#f08080" stroke-width="1.1" fill="none"/>
<path d="M136.5 46.3V59.1M134 46.3h5M134 59.1h5" stroke="#e04848" stroke-width="1" fill="none"/>
<circle cx="136.5" cy="52.7" r="2.2" fill="none" stroke="#e04848" stroke-width="0.9"/>
<rect x="57.7" y="157.0" width="176.3" height="117.5" fill="none" stroke="#6e6e6e" stroke-width="1"/>
<rect x="260.5" y="157.0" width="176.0" height="117.5" fill="none" stroke="#6e6e6e" stroke-width="1"/>
<rect x="500.0" y="157.0" width="176.0" height="117.5" fill="none" stroke="#6e6e6e" stroke-width="1"/>
<path d="M57.7 274.5v-2.0M57.7 157.0v2.0" stroke="#555"/>
<text x="57.7" y="295" text-anchor="middle" class="t">0</text>
<path d="M101.78 274.5v-2.0M101.78 157.0v2.0" stroke="#555"/>
<text x="101.78" y="295" text-anchor="middle" class="t">20</text>
<path d="M145.85 274.5v-2.0M145.85 157.0v2.0" stroke="#555"/>
<text x="145.85" y="295" text-anchor="middle" class="t">40</text>
<path d="M189.93 274.5v-2.0M189.93 157.0v2.0" stroke="#555"/>
<text x="189.93" y="295" text-anchor="middle" class="t">60</text>
<path d="M234 274.5v-2.0M234 157.0v2.0" stroke="#555"/>
<text x="234" y="295" text-anchor="middle" class="t">80</text>
<path d="M57.7 262.4h2.0M234.0 262.4h-2.0" stroke="#555"/>
<text x="52.8" y="267.9" text-anchor="end" class="t">0</text>
<path d="M57.7 236.05h2.0M234.0 236.05h-2.0" stroke="#555"/>
<text x="52.8" y="241.55" text-anchor="end" class="t">0.02</text>
<path d="M57.7 209.7h2.0M234.0 209.7h-2.0" stroke="#555"/>
<text x="52.8" y="215.2" text-anchor="end" class="t">0.04</text>
<path d="M57.7 183.35h2.0M234.0 183.35h-2.0" stroke="#555"/>
<text x="52.8" y="188.85" text-anchor="end" class="t">0.06</text>
<path d="M57.7 157h2.0M234.0 157h-2.0" stroke="#555"/>
<text x="52.8" y="162.5" text-anchor="end" class="t">0.08</text>
<path d="M260.5 274.5v-2.0M260.5 157.0v2.0" stroke="#555"/>
<text x="260.5" y="295" text-anchor="middle" class="t">0</text>
<path d="M304.5 274.5v-2.0M304.5 157.0v2.0" stroke="#555"/>
<text x="304.5" y="295" text-anchor="middle" class="t">20</text>
<path d="M348.5 274.5v-2.0M348.5 157.0v2.0" stroke="#555"/>
<text x="348.5" y="295" text-anchor="middle" class="t">40</text>
<path d="M392.5 274.5v-2.0M392.5 157.0v2.0" stroke="#555"/>
<text x="392.5" y="295" text-anchor="middle" class="t">60</text>
<path d="M436.5 274.5v-2.0M436.5 157.0v2.0" stroke="#555"/>
<text x="436.5" y="295" text-anchor="middle" class="t">80</text>
<path d="M260.5 262.4h2.0M436.5 262.4h-2.0" stroke="#555"/>
<path d="M260.5 236.05h2.0M436.5 236.05h-2.0" stroke="#555"/>
<path d="M260.5 209.7h2.0M436.5 209.7h-2.0" stroke="#555"/>
<path d="M260.5 183.35h2.0M436.5 183.35h-2.0" stroke="#555"/>
<path d="M260.5 157h2.0M436.5 157h-2.0" stroke="#555"/>
<path d="M500 274.5v-2.0M500 157.0v2.0" stroke="#555"/>
<text x="500" y="295" text-anchor="middle" class="t">0</text>
<path d="M544 274.5v-2.0M544 157.0v2.0" stroke="#555"/>
<text x="544" y="295" text-anchor="middle" class="t">20</text>
<path d="M588 274.5v-2.0M588 157.0v2.0" stroke="#555"/>
<text x="588" y="295" text-anchor="middle" class="t">40</text>
<path d="M632 274.5v-2.0M632 157.0v2.0" stroke="#555"/>
<text x="632" y="295" text-anchor="middle" class="t">60</text>
<path d="M676 274.5v-2.0M676 157.0v2.0" stroke="#555"/>
<text x="676" y="295" text-anchor="middle" class="t">80</text>
<path d="M500.0 265.51h2.0M676.0 265.51h-2.0" stroke="#555"/>
<text x="495.1" y="271.01" text-anchor="end" class="t">0</text>
<path d="M500.0 217.15h2.0M676.0 217.15h-2.0" stroke="#555"/>
<text x="495.1" y="222.65" text-anchor="end" class="t">0.2</text>
<path d="M500.0 168.8h2.0M676.0 168.8h-2.0" stroke="#555"/>
<text x="495.1" y="174.3" text-anchor="end" class="t">0.4</text>
<clipPath id="cp01"><rect x="57.7" y="157.0" width="176.3" height="117.5"/></clipPath>
<g clip-path="url(#cp01)">
<path d="M93.1 257.8 L93.1 257.8 L93.95 257.44 L94.83 257.19 L95.74 257.01 L96.69 256.88 L97.68 256.76 L98.7 256.6 L99.8 256.46 L101 256.38 L102.23 256.3 L103.44 256.18 L104.58 255.96 L105.6 255.6 L106 255.36 L106 262.4 L93.1 262.4Z" fill="#ff8080"/>
<path d="M119.3 236.2 L119.3 236.2 L120.16 234.96 L120.99 233.84 L121.8 232.85 L122.61 231.98 L123.44 231.23 L124.3 230.6 L125.18 230.15 L126.07 229.89 L126.98 229.74 L127.91 229.66 L128.88 229.57 L129.9 229.4 L131 229.17 L132.2 228.93 L133.43 228.68 L134.64 228.43 L135.78 228.17 L136.8 227.9 L137 227.84 L137 262.4 L119.3 262.4Z" fill="#80ff80"/>
<path d="M166.1 203.27 L166.77 202.72 L167.87 201.93 L169.01 201.18 L170.18 200.43 L171.38 199.62 L172.6 198.7 L173.86 197.62 L175.16 196.4 L176.49 195.13 L177.83 193.89 L179.17 192.75 L180.5 191.8 L181.82 191.04 L183.13 190.41 L184.45 189.89 L185.77 189.46 L187.08 189.1 L188.4 188.8 L189.72 188.56 L191.03 188.41 L192.35 188.33 L193.67 188.3 L194.98 188.33 L196.3 188.4 L197.62 188.51 L198.93 188.67 L200.25 188.89 L201.57 189.15 L202.88 189.45 L204.2 189.8 L205.49 190.2 L206.76 190.66 L208.02 191.17 L209.32 191.7 L210.67 192.25 L212.1 192.8 L212.1 192.8 L212.1 262.4 L166.1 262.4Z" fill="#8080ff"/>
<path d="M57.7 262.4H234.0" stroke="#6e6e6e" stroke-width="1"/>
<path d="M76 277 L76.27 276.68 L76.61 276.26 L77.04 275.74 L77.53 275.14 L78.09 274.46 L78.7 273.7 L79.4 272.82 L80.2 271.8 L81.06 270.69 L81.95 269.56 L82.84 268.44 L83.7 267.4 L84.54 266.41 L85.39 265.42 L86.24 264.46 L87.08 263.52 L87.9 262.63 L88.7 261.8 L89.45 261.01 L90.17 260.24 L90.86 259.53 L91.57 258.87 L92.3 258.29 L93.1 257.8 L93.95 257.44 L94.83 257.19 L95.74 257.01 L96.69 256.88 L97.68 256.76 L98.7 256.6 L99.8 256.46 L101 256.38 L102.23 256.3 L103.44 256.18 L104.58 255.96 L105.6 255.6 L106.49 255.07 L107.28 254.41 L108 253.65 L108.68 252.84 L109.34 252.01 L110 251.2 L110.64 250.46 L111.21 249.76 L111.78 249.05 L112.35 248.26 L112.98 247.33 L113.7 246.2 L114.53 244.77 L115.45 243.07 L116.42 241.24 L117.41 239.39 L118.38 237.67 L119.3 236.2 L120.16 234.96 L120.99 233.84 L121.8 232.85 L122.61 231.98 L123.44 231.23 L124.3 230.6 L125.18 230.15 L126.07 229.89 L126.98 229.74 L127.91 229.66 L128.88 229.57 L129.9 229.4 L131 229.17 L132.2 228.93 L133.43 228.68 L134.64 228.43 L135.78 228.17 L136.8 227.9 L137.67 227.65 L138.43 227.42 L139.12 227.19 L139.78 226.92 L140.46 226.6 L141.2 226.2 L142.01 225.69 L142.87 225.09 L143.74 224.44 L144.6 223.76 L145.43 223.11 L146.2 222.5 L146.89 221.96 L147.51 221.45 L148.11 220.96 L148.7 220.47 L149.32 219.96 L150 219.4 L150.75 218.81 L151.54 218.22 L152.37 217.6 L153.21 216.95 L154.06 216.25 L154.9 215.5 L155.73 214.69 L156.56 213.82 L157.4 212.91 L158.25 211.96 L159.11 210.99 L160 210 L160.9 208.97 L161.81 207.88 L162.74 206.76 L163.69 205.66 L164.67 204.59 L165.7 203.6 L166.77 202.72 L167.87 201.93 L169.01 201.18 L170.18 200.43 L171.38 199.62 L172.6 198.7 L173.86 197.62 L175.16 196.4 L176.49 195.13 L177.83 193.89 L179.17 192.75 L180.5 191.8 L181.82 191.04 L183.13 190.41 L184.45 189.89 L185.77 189.46 L187.08 189.1 L188.4 188.8 L189.72 188.56 L191.03 188.41 L192.35 188.33 L193.67 188.3 L194.98 188.33 L196.3 188.4 L197.62 188.51 L198.93 188.67 L200.25 188.89 L201.57 189.15 L202.88 189.45 L204.2 189.8 L205.49 190.2 L206.76 190.66 L208.02 191.17 L209.32 191.7 L210.67 192.25 L212.1 192.8 L213.62 193.35 L215.19 193.9 L216.83 194.48 L218.51 195.06 L220.23 195.67 L222 196.3 L223.96 197.01 L226.14 197.8 L228.37 198.62 L230.46 199.39 L232.23 200.03 L233.5 200.5" fill="none" stroke="#3f8fcc" stroke-width="1"/>
<path d="M93.1 257.8 L93.1 257.8 L93.95 257.44 L94.83 257.19 L95.74 257.01 L96.69 256.88 L97.68 256.76 L98.7 256.6 L99.8 256.46 L101 256.38 L102.23 256.3 L103.44 256.18 L104.58 255.96 L105.6 255.6 L106 255.36" fill="none" stroke="#3a3a3a" stroke-width="0.75"/>
<path d="M119.3 236.2 L119.3 236.2 L120.16 234.96 L120.99 233.84 L121.8 232.85 L122.61 231.98 L123.44 231.23 L124.3 230.6 L125.18 230.15 L126.07 229.89 L126.98 229.74 L127.91 229.66 L128.88 229.57 L129.9 229.4 L131 229.17 L132.2 228.93 L133.43 228.68 L134.64 228.43 L135.78 228.17 L136.8 227.9 L137 227.84" fill="none" stroke="#3a3a3a" stroke-width="0.75"/>
<path d="M166.1 203.27 L166.77 202.72 L167.87 201.93 L169.01 201.18 L170.18 200.43 L171.38 199.62 L172.6 198.7 L173.86 197.62 L175.16 196.4 L176.49 195.13 L177.83 193.89 L179.17 192.75 L180.5 191.8 L181.82 191.04 L183.13 190.41 L184.45 189.89 L185.77 189.46 L187.08 189.1 L188.4 188.8 L189.72 188.56 L191.03 188.41 L192.35 188.33 L193.67 188.3 L194.98 188.33 L196.3 188.4 L197.62 188.51 L198.93 188.67 L200.25 188.89 L201.57 189.15 L202.88 189.45 L204.2 189.8 L205.49 190.2 L206.76 190.66 L208.02 191.17 L209.32 191.7 L210.67 192.25 L212.1 192.8 L212.1 192.8" fill="none" stroke="#3a3a3a" stroke-width="0.75"/>
</g>
<clipPath id="cp11"><rect x="260.5" y="157.0" width="176.0" height="117.5"/></clipPath>
<g clip-path="url(#cp11)">
<path d="M295.9 256.22 L296.2 256 L297.16 255.45 L298.18 255.01 L299.22 254.64 L300.29 254.3 L301.35 253.93 L302.4 253.5 L303.45 253.02 L304.51 252.54 L305.57 252.03 L306.62 251.49 L307.64 250.88 L308.6 250.2 L308.6 262.4 L295.9 262.4Z" fill="#ff8080"/>
<path d="M322.1 228.82 L322.3 228.5 L323.12 227.23 L323.92 226.01 L324.73 224.85 L325.54 223.76 L326.4 222.74 L327.3 221.8 L328.26 220.97 L329.27 220.23 L330.32 219.57 L331.38 218.96 L332.45 218.38 L333.5 217.8 L334.56 217.25 L335.64 216.75 L336.73 216.28 L337.79 215.81 L338.82 215.33 L339.8 214.8 L339.8 214.8 L339.8 262.4 L322.1 262.4Z" fill="#80ff80"/>
<path d="M368.2 185.6 L368.2 185.6 L369.29 184.43 L370.39 183.29 L371.5 182.19 L372.62 181.1 L373.75 180.01 L374.9 178.9 L376.07 177.76 L377.26 176.6 L378.47 175.43 L379.68 174.29 L380.89 173.21 L382.1 172.2 L383.31 171.27 L384.54 170.41 L385.78 169.6 L386.99 168.83 L388.17 168.1 L389.3 167.4 L390.36 166.71 L391.35 166.03 L392.31 165.38 L393.26 164.8 L394.25 164.29 L395.3 163.9 L396.43 163.66 L397.63 163.56 L398.85 163.55 L400.07 163.56 L401.27 163.53 L402.4 163.4 L403.46 163.15 L404.48 162.82 L405.47 162.45 L406.44 162.08 L407.41 161.75 L408.4 161.5 L409.39 161.34 L410.36 161.24 L411.32 161.18 L412.31 161.13 L413.33 161.08 L414.4 161 L414.7 160.97 L414.7 262.4 L368.2 262.4Z" fill="#8080ff"/>
<path d="M260.5 262.4H436.5" stroke="#6e6e6e" stroke-width="1"/>
<path d="M279 277 L279.21 276.74 L279.47 276.43 L279.79 276.04 L280.18 275.55 L280.65 274.94 L281.2 274.2 L281.87 273.27 L282.66 272.15 L283.52 270.91 L284.43 269.63 L285.33 268.37 L286.2 267.2 L287.03 266.11 L287.87 265.03 L288.7 263.97 L289.53 262.95 L290.37 261.95 L291.2 261 L292.02 260.07 L292.82 259.15 L293.62 258.27 L294.44 257.44 L295.3 256.67 L296.2 256 L297.16 255.45 L298.18 255.01 L299.22 254.64 L300.29 254.3 L301.35 253.93 L302.4 253.5 L303.45 253.02 L304.51 252.54 L305.57 252.03 L306.62 251.49 L307.64 250.88 L308.6 250.2 L309.52 249.45 L310.4 248.63 L311.26 247.76 L312.07 246.83 L312.86 245.85 L313.6 244.8 L314.28 243.69 L314.88 242.5 L315.45 241.26 L316.02 239.97 L316.62 238.65 L317.3 237.3 L318.06 235.88 L318.87 234.39 L319.72 232.85 L320.59 231.33 L321.45 229.86 L322.3 228.5 L323.12 227.23 L323.92 226.01 L324.73 224.85 L325.54 223.76 L326.4 222.74 L327.3 221.8 L328.26 220.97 L329.27 220.23 L330.32 219.57 L331.38 218.96 L332.45 218.38 L333.5 217.8 L334.56 217.25 L335.64 216.75 L336.73 216.28 L337.79 215.81 L338.82 215.33 L339.8 214.8 L340.71 214.24 L341.56 213.67 L342.37 213.08 L343.17 212.46 L343.97 211.8 L344.8 211.1 L345.66 210.35 L346.54 209.55 L347.43 208.72 L348.3 207.86 L349.17 206.98 L350 206.1 L350.77 205.22 L351.48 204.34 L352.17 203.44 L352.9 202.51 L353.69 201.53 L354.6 200.5 L355.66 199.4 L356.84 198.24 L358.09 197.03 L359.36 195.8 L360.62 194.55 L361.8 193.3 L362.91 192.03 L363.98 190.73 L365.03 189.42 L366.07 188.11 L367.13 186.83 L368.2 185.6 L369.29 184.43 L370.39 183.29 L371.5 182.19 L372.62 181.1 L373.75 180.01 L374.9 178.9 L376.07 177.76 L377.26 176.6 L378.47 175.43 L379.68 174.29 L380.89 173.21 L382.1 172.2 L383.31 171.27 L384.54 170.41 L385.78 169.6 L386.99 168.83 L388.17 168.1 L389.3 167.4 L390.36 166.71 L391.35 166.03 L392.31 165.38 L393.26 164.8 L394.25 164.29 L395.3 163.9 L396.43 163.66 L397.63 163.56 L398.85 163.55 L400.07 163.56 L401.27 163.53 L402.4 163.4 L403.46 163.15 L404.48 162.82 L405.47 162.45 L406.44 162.08 L407.41 161.75 L408.4 161.5 L409.39 161.34 L410.36 161.24 L411.32 161.18 L412.31 161.13 L413.33 161.08 L414.4 161 L415.54 160.89 L416.76 160.76 L418 160.62 L419.24 160.49 L420.46 160.38 L421.6 160.3 L422.68 160.25 L423.74 160.22 L424.76 160.21 L425.74 160.22 L426.69 160.25 L427.6 160.3 L428.46 160.37 L429.28 160.45 L430.06 160.56 L430.82 160.68 L431.56 160.83 L432.3 161 L433.08 161.22 L433.89 161.5 L434.69 161.79 L435.43 162.08 L436.05 162.33 L436.5 162.5" fill="none" stroke="#3f8fcc" stroke-width="1"/>
<path d="M295.9 256.22 L296.2 256 L297.16 255.45 L298.18 255.01 L299.22 254.64 L300.29 254.3 L301.35 253.93 L302.4 253.5 L303.45 253.02 L304.51 252.54 L305.57 252.03 L306.62 251.49 L307.64 250.88 L308.6 250.2" fill="none" stroke="#3a3a3a" stroke-width="0.75"/>
<path d="M322.1 228.82 L322.3 228.5 L323.12 227.23 L323.92 226.01 L324.73 224.85 L325.54 223.76 L326.4 222.74 L327.3 221.8 L328.26 220.97 L329.27 220.23 L330.32 219.57 L331.38 218.96 L332.45 218.38 L333.5 217.8 L334.56 217.25 L335.64 216.75 L336.73 216.28 L337.79 215.81 L338.82 215.33 L339.8 214.8 L339.8 214.8" fill="none" stroke="#3a3a3a" stroke-width="0.75"/>
<path d="M368.2 185.6 L368.2 185.6 L369.29 184.43 L370.39 183.29 L371.5 182.19 L372.62 181.1 L373.75 180.01 L374.9 178.9 L376.07 177.76 L377.26 176.6 L378.47 175.43 L379.68 174.29 L380.89 173.21 L382.1 172.2 L383.31 171.27 L384.54 170.41 L385.78 169.6 L386.99 168.83 L388.17 168.1 L389.3 167.4 L390.36 166.71 L391.35 166.03 L392.31 165.38 L393.26 164.8 L394.25 164.29 L395.3 163.9 L396.43 163.66 L397.63 163.56 L398.85 163.55 L400.07 163.56 L401.27 163.53 L402.4 163.4 L403.46 163.15 L404.48 162.82 L405.47 162.45 L406.44 162.08 L407.41 161.75 L408.4 161.5 L409.39 161.34 L410.36 161.24 L411.32 161.18 L412.31 161.13 L413.33 161.08 L414.4 161 L414.7 160.97" fill="none" stroke="#3a3a3a" stroke-width="0.75"/>
</g>
<clipPath id="cp21"><rect x="500.0" y="157.0" width="176.0" height="117.5"/></clipPath>
<g clip-path="url(#cp21)">
<path d="M535.2 259.7 L540.1 254.7 L543.9 250.5 L548.1 247.2 L548.1 265.5 L535.2 265.5Z" fill="#ff8080"/>
<path d="M561.5 238.81 L561.8 238.5 L567.6 233.5 L573.8 226 L578.8 221.8 L578.8 265.5 L561.5 265.5Z" fill="#80ff80"/>
<path d="M607.9 206.9 L614.9 203.9 L621.9 201.9 L627.9 197.9 L634.4 191.2 L640.3 191.2 L647.3 183.7 L653.6 179.4 L654 179.03 L654 265.5 L607.9 265.5Z" fill="#8080ff"/>
<path d="M500.0 265.5H676.0" stroke="#6e6e6e" stroke-width="1"/>
<path d="M508.5 245.3 L511.5 256 L514.5 268.4 L517.7 268.4 L522.7 268 L526.4 265.4 L530.2 261.7 L535.2 259.7 L540.1 254.7 L543.9 250.5 L548.1 247.2 L552.6 244.3 L557.6 242.8 L561.8 238.5 L567.6 233.5 L573.8 226 L578.8 221.8 L583.8 215.3 L587.5 214.8 L594.5 207.9 L601.2 209.4 L607.9 206.9 L614.9 203.9 L621.9 201.9 L627.9 197.9 L634.4 191.2 L640.3 191.2 L647.3 183.7 L653.6 179.4 L659.8 173.7 L665.3 167.5 L671 168.7 L675.5 169.5" fill="none" stroke="#3f8fcc" stroke-width="1"/>
<path d="M535.2 259.7 L540.1 254.7 L543.9 250.5 L548.1 247.2" fill="none" stroke="#3a3a3a" stroke-width="0.75"/>
<path d="M561.5 238.81 L561.8 238.5 L567.6 233.5 L573.8 226 L578.8 221.8" fill="none" stroke="#3a3a3a" stroke-width="0.75"/>
<path d="M607.9 206.9 L614.9 203.9 L621.9 201.9 L627.9 197.9 L634.4 191.2 L640.3 191.2 L647.3 183.7 L653.6 179.4 L654 179.03" fill="none" stroke="#3a3a3a" stroke-width="0.75"/>
</g>
<rect x="57.7" y="318.0" width="176.3" height="117.39999999999998" fill="none" stroke="#6e6e6e" stroke-width="1"/>
<rect x="260.5" y="318.0" width="176.0" height="117.39999999999998" fill="none" stroke="#6e6e6e" stroke-width="1"/>
<rect x="500.0" y="318.0" width="176.0" height="117.39999999999998" fill="none" stroke="#6e6e6e" stroke-width="1"/>
<path d="M78.44 435.4v-2.0M78.44 318.0v2.0" stroke="#555"/>
<text x="78.44" y="455.9" text-anchor="middle" class="t">10</text>
<path d="M113.01 435.4v-2.0M113.01 318.0v2.0" stroke="#555"/>
<text x="113.01" y="455.9" text-anchor="middle" class="t">20</text>
<path d="M147.58 435.4v-2.0M147.58 318.0v2.0" stroke="#555"/>
<text x="147.58" y="455.9" text-anchor="middle" class="t">30</text>
<path d="M182.15 435.4v-2.0M182.15 318.0v2.0" stroke="#555"/>
<text x="182.15" y="455.9" text-anchor="middle" class="t">40</text>
<path d="M216.72 435.4v-2.0M216.72 318.0v2.0" stroke="#555"/>
<text x="216.72" y="455.9" text-anchor="middle" class="t">50</text>
<path d="M57.7 423.29h2.0M234.0 423.29h-2.0" stroke="#555"/>
<text x="52.8" y="428.79" text-anchor="end" class="t">0</text>
<path d="M57.7 396.97h2.0M234.0 396.97h-2.0" stroke="#555"/>
<text x="52.8" y="402.47" text-anchor="end" class="t">0.02</text>
<path d="M57.7 370.65h2.0M234.0 370.65h-2.0" stroke="#555"/>
<text x="52.8" y="376.15" text-anchor="end" class="t">0.04</text>
<path d="M57.7 344.32h2.0M234.0 344.32h-2.0" stroke="#555"/>
<text x="52.8" y="349.82" text-anchor="end" class="t">0.06</text>
<path d="M57.7 318h2.0M234.0 318h-2.0" stroke="#555"/>
<text x="52.8" y="323.5" text-anchor="end" class="t">0.08</text>
<path d="M281.21 435.4v-2.0M281.21 318.0v2.0" stroke="#555"/>
<text x="281.21" y="455.9" text-anchor="middle" class="t">10</text>
<path d="M315.72 435.4v-2.0M315.72 318.0v2.0" stroke="#555"/>
<text x="315.72" y="455.9" text-anchor="middle" class="t">20</text>
<path d="M350.23 435.4v-2.0M350.23 318.0v2.0" stroke="#555"/>
<text x="350.23" y="455.9" text-anchor="middle" class="t">30</text>
<path d="M384.74 435.4v-2.0M384.74 318.0v2.0" stroke="#555"/>
<text x="384.74" y="455.9" text-anchor="middle" class="t">40</text>
<path d="M419.25 435.4v-2.0M419.25 318.0v2.0" stroke="#555"/>
<text x="419.25" y="455.9" text-anchor="middle" class="t">50</text>
<path d="M260.5 423.29h2.0M436.5 423.29h-2.0" stroke="#555"/>
<path d="M260.5 396.97h2.0M436.5 396.97h-2.0" stroke="#555"/>
<path d="M260.5 370.65h2.0M436.5 370.65h-2.0" stroke="#555"/>
<path d="M260.5 344.32h2.0M436.5 344.32h-2.0" stroke="#555"/>
<path d="M260.5 318h2.0M436.5 318h-2.0" stroke="#555"/>
<path d="M520.71 435.4v-2.0M520.71 318.0v2.0" stroke="#555"/>
<text x="520.71" y="455.9" text-anchor="middle" class="t">10</text>
<path d="M555.22 435.4v-2.0M555.22 318.0v2.0" stroke="#555"/>
<text x="555.22" y="455.9" text-anchor="middle" class="t">20</text>
<path d="M589.73 435.4v-2.0M589.73 318.0v2.0" stroke="#555"/>
<text x="589.73" y="455.9" text-anchor="middle" class="t">30</text>
<path d="M624.24 435.4v-2.0M624.24 318.0v2.0" stroke="#555"/>
<text x="624.24" y="455.9" text-anchor="middle" class="t">40</text>
<path d="M658.75 435.4v-2.0M658.75 318.0v2.0" stroke="#555"/>
<text x="658.75" y="455.9" text-anchor="middle" class="t">50</text>
<path d="M500.0 426.39h2.0M676.0 426.39h-2.0" stroke="#555"/>
<text x="495.1" y="431.89" text-anchor="end" class="t">0</text>
<path d="M500.0 378.35h2.0M676.0 378.35h-2.0" stroke="#555"/>
<text x="495.1" y="383.85" text-anchor="end" class="t">0.2</text>
<path d="M500.0 330.3h2.0M676.0 330.3h-2.0" stroke="#555"/>
<text x="495.1" y="335.8" text-anchor="end" class="t">0.4</text>
<clipPath id="cp02"><rect x="57.7" y="318.0" width="176.3" height="117.39999999999998"/></clipPath>
<g clip-path="url(#cp02)">
<path d="M73.2 354.31 L73.5 353.82 L74.13 352.86 L74.79 351.96 L75.43 351.14 L76.05 350.44 L76.6 349.9 L77.09 349.52 L77.53 349.28 L77.93 349.16 L78.32 349.15 L78.7 349.24 L79.1 349.4 L79.5 349.65 L79.9 349.99 L80.3 350.43 L80.7 350.96 L81.1 351.59 L81.5 352.3 L81.92 353.13 L82.35 354.08 L82.78 355.13 L83.21 356.23 L83.62 357.36 L84 358.5 L84.32 359.64 L84.59 360.8 L84.84 362 L85.12 363.23 L85.46 364.5 L85.9 365.8 L85.9 365.8 L85.9 423.3 L73.2 423.3Z" fill="#8080ff"/>
<path d="M101.1 389.1 L101.1 389.1 L102.29 389.66 L103.56 390 L104.88 390.19 L106.17 390.3 L107.4 390.41 L108.5 390.6 L109.47 390.82 L110.34 390.99 L111.14 391.17 L111.9 391.39 L112.64 391.68 L113.4 392.1 L114.15 392.63 L114.87 393.24 L115.57 393.94 L116.28 394.71 L117.01 395.57 L117.8 396.5 L117.8 423.3 L101.1 423.3Z" fill="#80ff80"/>
<path d="M137.9 416.1 L139.29 416.54 L140.72 416.84 L142.21 417.04 L143.74 417.18 L145.34 417.29 L147 417.4 L148.7 417.48 L150.43 417.5 L152.22 417.48 L154.09 417.47 L156.08 417.5 L158.2 417.6 L160.58 417.78 L163.21 418.03 L165.96 418.31 L168.67 418.61 L171.2 418.91 L173.4 419.2 L173.6 419.23 L173.6 423.3 L137.9 423.3Z" fill="#ff8080"/>
<path d="M57.7 423.3H234.0" stroke="#6e6e6e" stroke-width="1"/>
<path d="M69.8 361.6 L70.13 360.84 L70.58 359.77 L71.12 358.51 L71.71 357.18 L72.31 355.9 L72.9 354.8 L73.5 353.82 L74.13 352.86 L74.79 351.96 L75.43 351.14 L76.05 350.44 L76.6 349.9 L77.09 349.52 L77.53 349.28 L77.93 349.16 L78.32 349.15 L78.7 349.24 L79.1 349.4 L79.5 349.65 L79.9 349.99 L80.3 350.43 L80.7 350.96 L81.1 351.59 L81.5 352.3 L81.92 353.13 L82.35 354.08 L82.78 355.13 L83.21 356.23 L83.62 357.36 L84 358.5 L84.32 359.64 L84.59 360.8 L84.84 362 L85.12 363.23 L85.46 364.5 L85.9 365.8 L86.46 367.17 L87.1 368.6 L87.81 370.07 L88.56 371.54 L89.33 373 L90.1 374.4 L90.86 375.76 L91.64 377.09 L92.43 378.41 L93.25 379.7 L94.11 380.96 L95 382.2 L95.93 383.46 L96.9 384.77 L97.89 386.04 L98.93 387.23 L99.99 388.27 L101.1 389.1 L102.29 389.66 L103.56 390 L104.88 390.19 L106.17 390.3 L107.4 390.41 L108.5 390.6 L109.47 390.82 L110.34 390.99 L111.14 391.17 L111.9 391.39 L112.64 391.68 L113.4 392.1 L114.15 392.63 L114.87 393.24 L115.57 393.94 L116.28 394.71 L117.01 395.57 L117.8 396.5 L118.62 397.55 L119.45 398.71 L120.31 399.96 L121.21 401.25 L122.17 402.54 L123.2 403.8 L124.32 405.06 L125.52 406.35 L126.78 407.65 L128.07 408.91 L129.35 410.11 L130.6 411.2 L131.8 412.2 L132.97 413.15 L134.14 414.03 L135.34 414.83 L136.58 415.52 L137.9 416.1 L139.29 416.54 L140.72 416.84 L142.21 417.04 L143.74 417.18 L145.34 417.29 L147 417.4 L148.7 417.48 L150.43 417.5 L152.22 417.48 L154.09 417.47 L156.08 417.5 L158.2 417.6 L160.58 417.78 L163.21 418.03 L165.96 418.31 L168.67 418.61 L171.2 418.91 L173.4 419.2 L175.15 419.46 L176.55 419.72 L177.77 419.97 L178.97 420.25 L180.32 420.55 L182 420.9 L184.03 421.3 L186.3 421.73 L188.71 422.2 L191.2 422.69 L193.69 423.19 L196.1 423.7 L198.44 424.23 L200.77 424.8 L203.11 425.38 L205.44 425.96 L207.77 426.5 L210.1 427 L212.49 427.45 L214.94 427.86 L217.39 428.24 L219.77 428.6 L222.03 428.95 L224.1 429.3 L226.04 429.66 L227.92 430.03 L229.67 430.39 L231.23 430.72 L232.53 431 L233.5 431.2" fill="none" stroke="#3f8fcc" stroke-width="1"/>
<path d="M73.2 354.31 L73.5 353.82 L74.13 352.86 L74.79 351.96 L75.43 351.14 L76.05 350.44 L76.6 349.9 L77.09 349.52 L77.53 349.28 L77.93 349.16 L78.32 349.15 L78.7 349.24 L79.1 349.4 L79.5 349.65 L79.9 349.99 L80.3 350.43 L80.7 350.96 L81.1 351.59 L81.5 352.3 L81.92 353.13 L82.35 354.08 L82.78 355.13 L83.21 356.23 L83.62 357.36 L84 358.5 L84.32 359.64 L84.59 360.8 L84.84 362 L85.12 363.23 L85.46 364.5 L85.9 365.8 L85.9 365.8" fill="none" stroke="#3a3a3a" stroke-width="0.75"/>
<path d="M101.1 389.1 L101.1 389.1 L102.29 389.66 L103.56 390 L104.88 390.19 L106.17 390.3 L107.4 390.41 L108.5 390.6 L109.47 390.82 L110.34 390.99 L111.14 391.17 L111.9 391.39 L112.64 391.68 L113.4 392.1 L114.15 392.63 L114.87 393.24 L115.57 393.94 L116.28 394.71 L117.01 395.57 L117.8 396.5" fill="none" stroke="#3a3a3a" stroke-width="0.75"/>
<path d="M137.9 416.1 L139.29 416.54 L140.72 416.84 L142.21 417.04 L143.74 417.18 L145.34 417.29 L147 417.4 L148.7 417.48 L150.43 417.5 L152.22 417.48 L154.09 417.47 L156.08 417.5 L158.2 417.6 L160.58 417.78 L163.21 418.03 L165.96 418.31 L168.67 418.61 L171.2 418.91 L173.4 419.2 L173.6 419.23" fill="none" stroke="#3a3a3a" stroke-width="0.75"/>
</g>
<clipPath id="cp12"><rect x="260.5" y="318.0" width="176.0" height="117.39999999999998"/></clipPath>
<g clip-path="url(#cp12)">
<path d="M275.9 321.9 L276.24 322.11 L276.7 322.4 L277.27 322.7 L277.93 323.03 L278.64 323.41 L279.39 323.91 L280.12 324.56 L280.8 325.4 L281.43 326.45 L282.04 327.69 L282.63 329.07 L283.23 330.58 L283.85 332.2 L284.5 333.9 L285.2 335.76 L285.92 337.81 L286.67 339.97 L287.42 342.14 L288.17 344.25 L288.9 346.2 L288.9 423.3 L275.9 423.3Z" fill="#8080ff"/>
<path d="M304.1 376.4 L305.29 377.32 L306.56 378.08 L307.88 378.72 L309.17 379.31 L310.4 379.89 L311.5 380.5 L312.47 381.11 L313.34 381.67 L314.14 382.22 L314.9 382.8 L315.64 383.45 L316.4 384.2 L317.15 385.05 L317.87 385.96 L318.57 386.94 L319.28 387.99 L320.01 389.11 L320.8 390.3 L320.8 390.3 L320.8 423.3 L304.1 423.3Z" fill="#80ff80"/>
<path d="M341.2 411.66 L341.5 411.8 L342.87 412.32 L344.23 412.72 L345.61 413.04 L347.05 413.32 L348.57 413.6 L350.2 413.9 L351.95 414.22 L353.8 414.54 L355.72 414.84 L357.73 415.15 L359.79 415.47 L361.9 415.8 L364.12 416.14 L366.48 416.49 L368.9 416.84 L371.31 417.2 L373.63 417.59 L375.8 418 L376.1 418.07 L376.1 423.3 L341.2 423.3Z" fill="#ff8080"/>
<path d="M260.5 423.3H436.5" stroke="#6e6e6e" stroke-width="1"/>
<path d="M272.8 324.1 L273.01 323.8 L273.29 323.36 L273.62 322.86 L273.99 322.36 L274.36 321.95 L274.7 321.7 L275 321.61 L275.28 321.62 L275.56 321.71 L275.87 321.88 L276.24 322.11 L276.7 322.4 L277.27 322.7 L277.93 323.03 L278.64 323.41 L279.39 323.91 L280.12 324.56 L280.8 325.4 L281.43 326.45 L282.04 327.69 L282.63 329.07 L283.23 330.58 L283.85 332.2 L284.5 333.9 L285.2 335.76 L285.92 337.81 L286.67 339.97 L287.42 342.14 L288.17 344.25 L288.9 346.2 L289.6 347.95 L290.29 349.56 L290.97 351.1 L291.66 352.64 L292.36 354.25 L293.1 356 L293.86 357.95 L294.64 360.07 L295.43 362.26 L296.25 364.42 L297.11 366.46 L298 368.3 L298.93 369.94 L299.9 371.46 L300.89 372.86 L301.93 374.15 L302.99 375.33 L304.1 376.4 L305.29 377.32 L306.56 378.08 L307.88 378.72 L309.17 379.31 L310.4 379.89 L311.5 380.5 L312.47 381.11 L313.34 381.67 L314.14 382.22 L314.9 382.8 L315.64 383.45 L316.4 384.2 L317.15 385.05 L317.87 385.96 L318.57 386.94 L319.28 387.99 L320.01 389.11 L320.8 390.3 L321.62 391.6 L322.45 393.01 L323.31 394.49 L324.21 395.99 L325.17 397.48 L326.2 398.9 L327.31 400.29 L328.5 401.69 L329.74 403.07 L331.02 404.41 L332.31 405.66 L333.6 406.8 L334.88 407.83 L336.17 408.79 L337.47 409.66 L338.79 410.46 L340.13 411.17 L341.5 411.8 L342.87 412.32 L344.23 412.72 L345.61 413.04 L347.05 413.32 L348.57 413.6 L350.2 413.9 L351.95 414.22 L353.8 414.54 L355.72 414.84 L357.73 415.15 L359.79 415.47 L361.9 415.8 L364.12 416.14 L366.48 416.49 L368.9 416.84 L371.31 417.2 L373.63 417.59 L375.8 418 L377.75 418.44 L379.52 418.91 L381.21 419.41 L382.9 419.91 L384.7 420.41 L386.7 420.9 L388.92 421.38 L391.29 421.84 L393.77 422.31 L396.3 422.78 L398.82 423.28 L401.3 423.8 L403.66 424.36 L405.94 424.94 L408.23 425.55 L410.59 426.17 L413.12 426.79 L415.9 427.4 L419.22 428.05 L423.09 428.76 L427.11 429.47 L430.94 430.14 L434.19 430.7 L436.5 431.1" fill="none" stroke="#3f8fcc" stroke-width="1"/>
<path d="M275.9 321.9 L276.24 322.11 L276.7 322.4 L277.27 322.7 L277.93 323.03 L278.64 323.41 L279.39 323.91 L280.12 324.56 L280.8 325.4 L281.43 326.45 L282.04 327.69 L282.63 329.07 L283.23 330.58 L283.85 332.2 L284.5 333.9 L285.2 335.76 L285.92 337.81 L286.67 339.97 L287.42 342.14 L288.17 344.25 L288.9 346.2" fill="none" stroke="#3a3a3a" stroke-width="0.75"/>
<path d="M304.1 376.4 L305.29 377.32 L306.56 378.08 L307.88 378.72 L309.17 379.31 L310.4 379.89 L311.5 380.5 L312.47 381.11 L313.34 381.67 L314.14 382.22 L314.9 382.8 L315.64 383.45 L316.4 384.2 L317.15 385.05 L317.87 385.96 L318.57 386.94 L319.28 387.99 L320.01 389.11 L320.8 390.3 L320.8 390.3" fill="none" stroke="#3a3a3a" stroke-width="0.75"/>
<path d="M341.2 411.66 L341.5 411.8 L342.87 412.32 L344.23 412.72 L345.61 413.04 L347.05 413.32 L348.57 413.6 L350.2 413.9 L351.95 414.22 L353.8 414.54 L355.72 414.84 L357.73 415.15 L359.79 415.47 L361.9 415.8 L364.12 416.14 L366.48 416.49 L368.9 416.84 L371.31 417.2 L373.63 417.59 L375.8 418 L376.1 418.07" fill="none" stroke="#3a3a3a" stroke-width="0.75"/>
</g>
<clipPath id="cp22"><rect x="500.0" y="318.0" width="176.0" height="117.39999999999998"/></clipPath>
<g clip-path="url(#cp22)">
<path d="M515.4 338.43 L515.7 340.1 L518.1 352.3 L520.6 356 L523 362.6 L526 365.8 L527.9 367.1 L527.9 426.4 L515.4 426.4Z" fill="#8080ff"/>
<path d="M543.6 383 L548.1 386.7 L553 392.8 L559.8 398.9 L559.8 426.4 L543.6 426.4Z" fill="#80ff80"/>
<path d="M579.9 407.5 L588.8 410.7 L601.2 416.5 L615 420.9 L615.3 420.92 L615.3 426.4 L579.9 426.4Z" fill="#ff8080"/>
<path d="M500.0 426.4H676.0" stroke="#6e6e6e" stroke-width="1"/>
<path d="M512.5 329.8 L513.7 329 L515.7 340.1 L518.1 352.3 L520.6 356 L523 362.6 L526 365.8 L527.9 367.1 L530.4 369.5 L533.3 368.3 L535.3 370.7 L537.8 376.4 L540.7 378.1 L543.6 383 L548.1 386.7 L553 392.8 L559.8 398.9 L566.5 403.8 L572.6 404.3 L579.9 407.5 L588.8 410.7 L601.2 416.5 L615 420.9 L623.8 421.6 L635.5 422.6 L645.7 425 L657.4 427 L667.6 427.4 L675.5 428.2" fill="none" stroke="#3f8fcc" stroke-width="1"/>
<path d="M515.4 338.43 L515.7 340.1 L518.1 352.3 L520.6 356 L523 362.6 L526 365.8 L527.9 367.1" fill="none" stroke="#3a3a3a" stroke-width="0.75"/>
<path d="M543.6 383 L548.1 386.7 L553 392.8 L559.8 398.9" fill="none" stroke="#3a3a3a" stroke-width="0.75"/>
<path d="M579.9 407.5 L588.8 410.7 L601.2 416.5 L615 420.9 L615.3 420.92" fill="none" stroke="#3a3a3a" stroke-width="0.75"/>
</g>
<rect x="66.5" y="166" width="23" height="10" fill="#ff8080" stroke="#444" stroke-width="0.9"/>
<rect x="66.5" y="181" width="23" height="10.5" fill="#80ff80" stroke="#444" stroke-width="0.9"/>
<rect x="66.5" y="196.5" width="23" height="10.5" fill="#8080ff" stroke="#444" stroke-width="0.9"/>
<rect x="160" y="327" width="22.5" height="10.5" fill="#ff8080" stroke="#444" stroke-width="0.9"/>
<rect x="160" y="342" width="22.5" height="10.8" fill="#80ff80" stroke="#444" stroke-width="0.9"/>
<rect x="160" y="357.5" width="22.5" height="10.5" fill="#8080ff" stroke="#444" stroke-width="0.9"/>
<text x="94.22" y="11.7" textLength="103.56" lengthAdjust="spacingAndGlyphs" style="font-size:15.5px;font-weight:bold;fill:#000">Original (ORG)</text>
<text x="278.25" y="11.7" textLength="144.48" lengthAdjust="spacingAndGlyphs" style="font-size:15.5px;font-weight:bold;fill:#000">Phase shuffled (PSF)</text>
<text x="536.57" y="11.7" textLength="110.27" lengthAdjust="spacingAndGlyphs" style="font-size:15.5px;font-weight:bold;fill:#000">PSC (PSF - ORG)</text>
<text x="101.77" y="315.2" textLength="87.68" lengthAdjust="spacingAndGlyphs" style="font-size:17.2px;font-weight:normal;fill:#2c2c2c">Scale Factor</text>
<text x="113.74" y="475.7" textLength="64.93" lengthAdjust="spacingAndGlyphs" style="font-size:17.2px;font-weight:normal;fill:#2c2c2c">ESR (Hz)</text>
<text x="304.78" y="315.2" textLength="87.27" lengthAdjust="spacingAndGlyphs" style="font-size:17.2px;font-weight:normal;fill:#2c2c2c">Scale Factor</text>
<text x="316.53" y="475.7" textLength="65.03" lengthAdjust="spacingAndGlyphs" style="font-size:17.2px;font-weight:normal;fill:#2c2c2c">ESR (Hz)</text>
<text x="543.87" y="315.2" textLength="87.88" lengthAdjust="spacingAndGlyphs" style="font-size:17.2px;font-weight:normal;fill:#2c2c2c">Scale Factor</text>
<text x="555.83" y="475.7" textLength="65.03" lengthAdjust="spacingAndGlyphs" style="font-size:17.2px;font-weight:normal;fill:#2c2c2c">ESR (Hz)</text>
<text transform="translate(12.6,109.53) rotate(-90)" x="0" y="0" textLength="60.02" lengthAdjust="spacingAndGlyphs" style="font-size:17.2px;font-weight:normal;fill:#2c2c2c">SampEn</text>
<text transform="translate(12.6,252.47) rotate(-90)" x="0" y="0" textLength="77.47" lengthAdjust="spacingAndGlyphs" style="font-size:17.2px;font-weight:normal;fill:#2c2c2c">Δ SampEn</text>
<text transform="translate(12.6,415.58) rotate(-90)" x="0" y="0" textLength="78.8" lengthAdjust="spacingAndGlyphs" style="font-size:17.2px;font-weight:normal;fill:#2c2c2c">Δ SampEn</text>
<text x="149.67" y="40.6" textLength="50.74" lengthAdjust="spacingAndGlyphs" style="font-size:13px;font-weight:normal;fill:#000">Controls</text>
<text x="149.73" y="57.0" textLength="75.71" lengthAdjust="spacingAndGlyphs" style="font-size:13px;font-weight:normal;fill:#000">SCZ. patients</text>
<text x="93.27" y="175.6" textLength="55.7" lengthAdjust="spacingAndGlyphs" style="font-size:12.3px;font-weight:normal;fill:#000">low&#160; scales</text>
<text x="93.23" y="190.8" textLength="54.98" lengthAdjust="spacingAndGlyphs" style="font-size:12.3px;font-weight:normal;fill:#000">mid scales</text>
<text x="93.24" y="205.5" textLength="57.59" lengthAdjust="spacingAndGlyphs" style="font-size:12.3px;font-weight:normal;fill:#000">high scales</text>
<text x="186.76" y="336.6" textLength="39.97" lengthAdjust="spacingAndGlyphs" style="font-size:12.3px;font-weight:normal;fill:#000">high fq.</text>
<text x="186.77" y="351.2" textLength="36.47" lengthAdjust="spacingAndGlyphs" style="font-size:12.3px;font-weight:normal;fill:#000">mid fq.</text>
<text x="186.77" y="366.9" textLength="35.9" lengthAdjust="spacingAndGlyphs" style="font-size:12.3px;font-weight:normal;fill:#000">low fq.</text>
</svg></body></html>
